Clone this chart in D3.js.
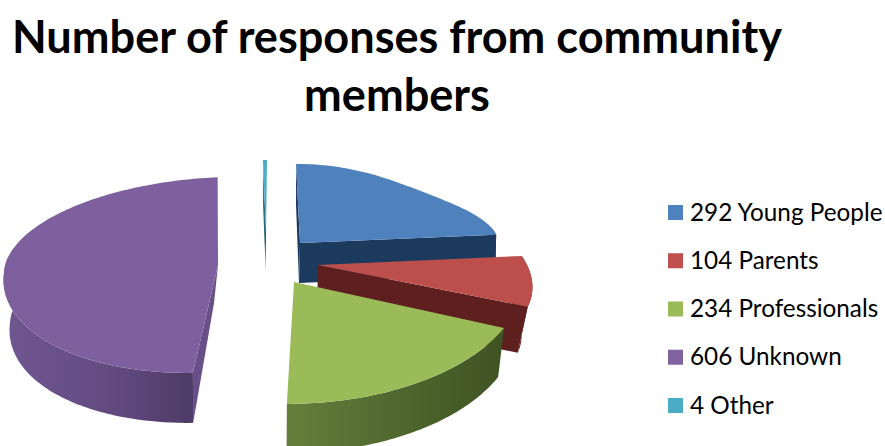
<!DOCTYPE html>
<html>
<head>
<meta charset="utf-8">
<script src="https://cdn.jsdelivr.net/npm/d3@7"></script>
<style>
  html, body { margin: 0; padding: 0; background: #fff; }
  svg { display: block; }
  text { font-family: Lato, "Open Sans", sans-serif; fill: #000; }
</style>
</head>
<body>
<script>
// Responses by group
const categories = ["Young People", "Parents", "Professionals", "Unknown", "Other"];
const responses = [292, 104, 234, 606, 4];
const titleLines = ["Number of responses from community", "members"];

const topColours = ["#4f81bd", "#bc4f4c", "#9bbb59", "#7f609f", "#4bacc6"];
const legendColours = ["#4f81bd", "#c0504d", "#9bbb59", "#8064a2", "#4bacc6"];

// Each exploded wedge is a tilted disc sector: apex, axis vectors, extrusion.
const wedgeViews = [
  { apex: [300, 243], u: [198, -1], back: [-4, -79], front: [-4, 79], drop: [-1, 40], apexDrop: [-1, 40], flat: 0.1,
    edges: ["start", "end"], wall: "#1c3a5e", edgeWall: "#1c3a5e" },
  { apex: [318, 265], u: [209, 0], back: [-48, -99], front: [48, 99], drop: [-11, 46], apexDrop: [-1, 46], flat: 0,
    edges: ["end"], wall: "#5e1f1f", edgeWall: "#5e1f1f" },
  { apex: [294, 282], u: [229.6, -6], back: [-4.5, -122], front: [4.5, 121.8], drop: [-6.5, 49], apexDrop: [-6, 49], flat: 0,
    edges: [], wall: "url(#wallGreen)", edgeWall: "#4a6129" },
  { apex: [218, 265], u: [214, -8], back: [4, -88], front: [-14.3, 107.6], drop: [6, 50], apexDrop: [-4, 38], flat: 0,
    edges: ["start"], wall: "url(#wallPurple)", edgeWall: "#684f88" },
  { apex: [266, 232], u: [200, 0], back: [1, -72], front: [-1, 72], drop: [0, 43], apexDrop: [0, 43], flat: 0,
    edges: ["start"], wall: "#1f5a68", edgeWall: "url(#wallTeal)" }
];

const width = 885, height = 446;
const svg = d3.select("body").append("svg").attr("width", width).attr("height", height);

const defs = svg.append("defs");
function horizontalGradient(id, stops) {
  const g = defs.append("linearGradient").attr("id", id);
  stops.forEach(([o, c]) => g.append("stop").attr("offset", o).attr("stop-color", c));
}
horizontalGradient("wallPurple", [[0, "#6f5690"], [0.55, "#634b82"], [1, "#4e3a66"]]);
horizontalGradient("wallGreen", [[0, "#667f3c"], [0.5, "#50682e"], [1, "#3f5323"]]);
const teal = defs.append("linearGradient").attr("id", "wallTeal").attr("x1", 0).attr("x2", 0).attr("y1", 0).attr("y2", 1);
[[0, "#4bacc6"], [0.3, "#2f7f92"], [0.7, "#1f5a68"], [1, "#b5c4c8"]].forEach(([o, c]) =>
  teal.append("stop").attr("offset", o).attr("stop-color", c));

// Title
svg.selectAll("text.title").data(titleLines).join("text")
  .attr("class", "title")
  .attr("x", 397)
  .attr("y", (d, i) => 53 + i * 58)
  .attr("text-anchor", "middle")
  .attr("font-size", 45.1)
  .attr("font-weight", 700)
  .text(d => d);

// Wedge geometry
const arcs = d3.pie().sort(null).value(d => d)(responses);
const outline = d3.line();

function pointAt(view, theta) {
  const s = Math.sin(theta), c = Math.cos(theta);
  const r = 1 - view.flat * Math.pow(Math.sin(2 * theta), 2);
  const v = c >= 0 ? view.back : view.front;
  const k = c >= 0 ? c : -c;
  return [
    view.apex[0] + r * (s * view.u[0] + k * v[0]),
    view.apex[1] + r * (s * view.u[1] + k * v[1])
  ];
}
// The wall leans sideways more the further the rim sits from the disc's depth axis
const dropped = (view, theta) => {
  const p = pointAt(view, theta), lean = Math.abs(Math.sin(theta));
  return [p[0] + view.drop[0] * lean, p[1] + view.drop[1]];
};

function sampleAngles(a0, a1) {
  const steps = Math.max(2, Math.ceil((a1 - a0) / 0.02));
  return d3.range(steps + 1).map(d3.scaleLinear().domain([0, steps]).range([a0, a1]));
}

// Back-to-front so nearer wedges cover the ones behind them
const drawOrder = [4, 0, 3, 1, 2];
const wedges = svg.selectAll("g.wedge").data(drawOrder).join("g").attr("class", "wedge");

wedges.each(function (i) {
  const g = d3.select(this), view = wedgeViews[i], arc = arcs[i];
  const angles = sampleAngles(arc.startAngle, arc.endAngle);
  const rim = angles.map(t => pointAt(view, t));

  // outer wall, only where the rim faces the viewer
  const facing = angles.filter(t => Math.cos(t) <= 0.2);
  if (facing.length > 1) {
    const upper = facing.map(t => pointAt(view, t));
    const lower = facing.slice().reverse().map(t => dropped(view, t));
    g.append("path").attr("d", outline(upper.concat(lower)) + "Z").attr("fill", view.wall);
  }

  // cut faces
  view.edges.forEach(edge => {
    const t = edge === "start" ? arc.startAngle : arc.endAngle;
    const bottomApex = [view.apex[0] + view.apexDrop[0], view.apex[1] + view.apexDrop[1]];
    g.append("path")
      .attr("d", outline([view.apex, pointAt(view, t), dropped(view, t), bottomApex]) + "Z")
      .attr("fill", view.edgeWall);
  });

  // top face
  g.append("path")
    .attr("d", outline([view.apex].concat(rim)) + "Z")
    .attr("fill", topColours[i]);
});

// Legend
const rowY = d3.scalePoint().domain(categories).range([212.5, 405.5]);
const legend = svg.selectAll("g.legend").data(categories).join("g")
  .attr("class", "legend")
  .attr("transform", d => `translate(668,${rowY(d)})`);
legend.append("rect")
  .attr("y", -7.5).attr("width", 15).attr("height", 15)
  .attr("fill", (d, i) => legendColours[i]);
legend.append("text")
  .attr("x", 22).attr("y", 8)
  .attr("font-size", 24.3)
  .text((d, i) => `${responses[i]} ${d}`);
</script>
</body>
</html>
